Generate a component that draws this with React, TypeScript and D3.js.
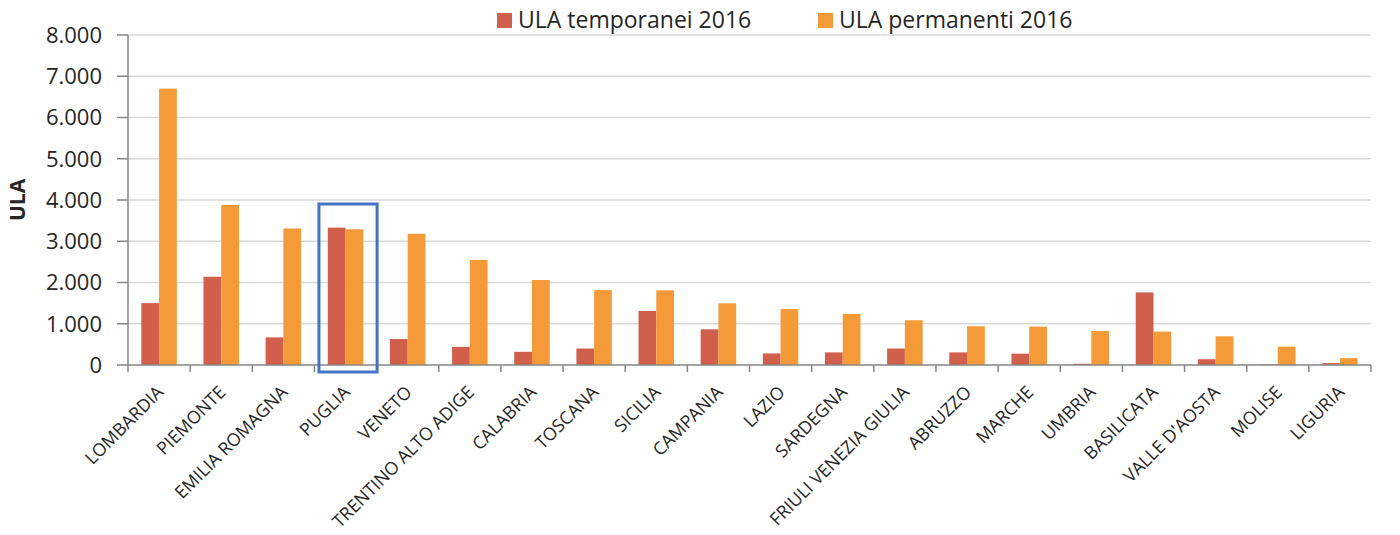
import React from "react";
import * as d3 from "d3";

const categories = [
  "LOMBARDIA", "PIEMONTE", "EMILIA ROMAGNA", "PUGLIA", "VENETO",
  "TRENTINO ALTO ADIGE", "CALABRIA", "TOSCANA", "SICILIA", "CAMPANIA",
  "LAZIO", "SARDEGNA", "FRIULI VENEZIA GIULIA", "ABRUZZO", "MARCHE",
  "UMBRIA", "BASILICATA", "VALLE D'AOSTA", "MOLISE", "LIGURIA",
];
const temporanei = [
  1500, 2140, 670, 3330, 630, 440, 320, 400, 1310, 865,
  280, 305, 400, 305, 275, 30, 1760, 140, 10, 45,
];
const permanenti = [
  6700, 3880, 3310, 3290, 3180, 2545, 2060, 1815, 1810, 1495,
  1355, 1235, 1085, 940, 930, 825, 810, 695, 445, 165,
];
const yTicks = [0, 1000, 2000, 3000, 4000, 5000, 6000, 7000, 8000];
const seriesNames = ["ULA temporanei 2016", "ULA permanenti 2016"];
const highlighted = "PUGLIA";

const W = 1400, H = 535;
const left = 128, right = 1371, top = 35, bottom = 365;
const colors = ["#D0604B", "#F59A38"];
const font = "'Open Sans', 'DejaVu Sans', sans-serif";

export default function App() {
  const x = d3.scaleBand<string>().domain(categories).range([left, right]).paddingInner(0).paddingOuter(0);
  const bw = x.bandwidth();
  const barW = bw / 3.5;
  const y = d3.scaleLinear().domain([0, 8000]).range([bottom, top]);
  const fmt = (v: number) => (v === 0 ? "0" : d3.format(",")(v).replace(/,/g, "."));
  const series = [temporanei, permanenti];

  const hx = x(highlighted)!;

  return (
    <svg width={W} height={H} style={{ position: "absolute", left: 0, top: 0, background: "#fff" }} fontFamily={font}>
      <rect x={0} y={0} width={W} height={H} fill="#fff" />
      {yTicks.map((t) => (
        <g key={t}>
          {t > 0 && <line x1={left} x2={right} y1={y(t)} y2={y(t)} stroke="#d9d9d9" strokeWidth={1.5} />}
          <line x1={left - 11} x2={left} y1={y(t)} y2={y(t)} stroke="#868686" strokeWidth={1.5} />
          <text x={102} y={y(t)} dy="0.36em" textAnchor="end" fontSize={22} fill="#262626">{fmt(t)}</text>
        </g>
      ))}
      {categories.map((c, i) => (
        <g key={c}>
          {series.map((s, k) => (
            <rect key={k} x={x(c)! + bw / 2 - barW + k * barW} y={y(s[i])} width={barW} height={y(0) - y(s[i])} fill={colors[k]} />
          ))}
        </g>
      ))}
      <line x1={left} x2={left} y1={top} y2={bottom} stroke="#868686" strokeWidth={1.5} />
      <line x1={left} x2={right} y1={bottom} y2={bottom} stroke="#868686" strokeWidth={1.5} />
      {categories.concat(["__end"]).map((c, i) => {
        const xx = left + i * bw;
        return <line key={"t" + i} x1={xx} x2={xx} y1={bottom} y2={bottom + 7} stroke="#868686" strokeWidth={1.5} />;
      })}
      {categories.map((c) => {
        const cx = x(c)! + bw / 2 + 1;
        const cy = 389;
        return (
          <text key={"l" + c} transform={`translate(${cx},${cy}) rotate(-45)`} textAnchor="end" dy="0.35em" fontSize={17.8} fill="#262626">
            {c}
          </text>
        );
      })}
      <rect x={hx + 4.5} y={204} width={bw - 4} height={168} fill="none" stroke="#4472C4" strokeWidth={3} />
      <text transform={`translate(25,200) rotate(-90)`} textAnchor="middle" fontSize={21} fontWeight="bold" fill="#262626">ULA</text>
      {seriesNames.map((n, k) => {
        const lx = k === 0 ? 497 : 818;
        return (
          <g key={n}>
            <rect x={lx} y={13} width={15} height={15} fill={colors[k]} />
            <text x={lx + 21} y={28} fontSize={23} fill="#262626">{n}</text>
          </g>
        );
      })}
    </svg>
  );
}
